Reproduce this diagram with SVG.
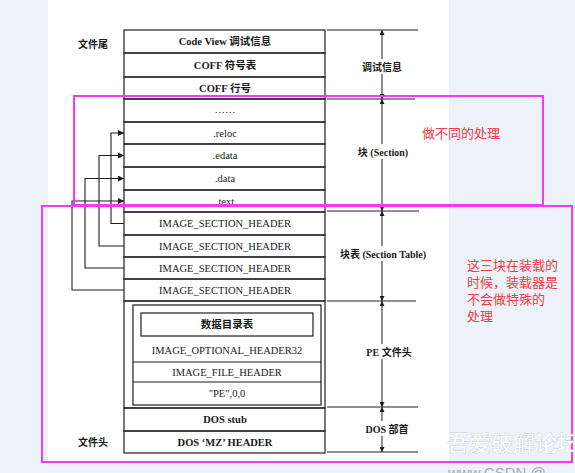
<svg xmlns="http://www.w3.org/2000/svg" width="575" height="473" viewBox="0 0 575 473">
<defs>
<marker id="ah" viewBox="0 0 10 10" refX="10" refY="5" markerWidth="8" markerHeight="6" markerUnits="userSpaceOnUse" orient="auto">
<path d="M0,0 L10,5 L0,10 Z" fill="#1a1a1a"/>
</marker>
<marker id="av" viewBox="0 0 10 10" refX="10" refY="5" markerWidth="7" markerHeight="5" markerUnits="userSpaceOnUse" orient="auto">
<path d="M0,0 L10,5 L0,10 Z" fill="#1a1a1a"/>
</marker>
</defs>
<style>
.cell{fill:none;stroke:#1e1e1e;stroke-width:1.2}
.t{font-family:"Liberation Serif","Noto Sans CJK SC",serif;font-size:10.5px;fill:#1a1a1a;text-anchor:middle}
.b{font-weight:bold}
.lab{font-family:"Liberation Serif","Noto Sans CJK SC",serif;font-size:10px;font-weight:bold;fill:#1a1a1a;text-anchor:middle}
.ln{stroke:#1e1e1e;stroke-width:1.1;fill:none}
.dim{stroke:#1e1e1e;stroke-width:1;fill:none}
.mg{fill:none;stroke:#f53af5;stroke-width:2}
.red{font-family:"Noto Sans CJK SC","Noto Sans",sans-serif;font-size:13px;fill:#f43a45}
</style>
<rect x="0" y="0" width="575" height="473" fill="#edf1f8"/>
<rect x="48" y="0" width="401" height="462" fill="#ffffff"/>

<g id="label-tail"><text class="lab" x="93" y="48">文件尾</text></g>
<g id="label-head"><text class="lab" x="93" y="446">文件头</text></g>

<g id="codeview"><rect class="cell" x="124" y="30" width="201" height="23"/><text class="t b" x="225" y="45">Code View 调试信息</text></g>
<g id="coff-sym"><rect class="cell" x="124" y="53" width="201" height="24"/><text class="t b" x="225" y="69">COFF 符号表</text></g>
<g id="coff-line"><rect class="cell" x="124" y="77" width="201" height="22"/><text class="t b" x="225" y="92">COFF 行号</text></g>
<g id="more"><rect class="cell" x="124" y="99" width="201" height="23"/><text class="t" x="225" y="113">……</text></g>
<g id="reloc"><rect class="cell" x="124" y="122" width="201" height="22"/><text class="t" x="225" y="137">.reloc</text></g>
<g id="edata"><rect class="cell" x="124" y="144" width="201" height="23"/><text class="t" x="225" y="159">.edata</text></g>
<g id="data"><rect class="cell" x="124" y="167" width="201" height="23"/><text class="t" x="225" y="182">.data</text></g>
<g id="text"><rect class="cell" x="124" y="190" width="201" height="22"/><text class="t" x="225" y="205">.text</text></g>
<g id="ish1"><rect class="cell" x="124" y="212" width="201" height="23"/><text class="t" x="225" y="227">IMAGE_SECTION_HEADER</text></g>
<g id="ish2"><rect class="cell" x="124" y="235" width="201" height="22"/><text class="t" x="225" y="250">IMAGE_SECTION_HEADER</text></g>
<g id="ish3"><rect class="cell" x="124" y="257" width="201" height="22"/><text class="t" x="225" y="272">IMAGE_SECTION_HEADER</text></g>
<g id="ish4"><rect class="cell" x="124" y="279" width="201" height="22"/><text class="t" x="225" y="294">IMAGE_SECTION_HEADER</text></g>
<g id="pe-header">
<rect class="cell" x="124" y="301" width="201" height="107"/>
<rect class="cell" x="133" y="305" width="188" height="100" stroke-width="1.6"/>
<line class="ln" x1="133" y1="362" x2="321" y2="362"/>
<line class="ln" x1="133" y1="382" x2="321" y2="382"/>
<text class="t" x="227" y="376">IMAGE_FILE_HEADER</text>
<text class="t" x="227" y="397">"PE",0,0</text>
</g>
<g id="optional-header"><text class="t" x="227" y="354">IMAGE_OPTIONAL_HEADER32</text></g>
<g id="data-directory"><rect class="cell" x="141" y="313" width="172" height="23" stroke-width="1.5"/><text class="t b" x="227" y="328">数据目录表</text></g>
<g id="dos-stub"><rect class="cell" x="124" y="408" width="201" height="23"/><text class="t b" x="225" y="423">DOS stub</text></g>
<g id="dos-mz"><rect class="cell" x="124" y="431" width="201" height="22"/><text class="t b" x="225" y="446">DOS ‘MZ’ HEADER</text></g>

<g id="connectors">
<path class="ln" d="M124,223.5 H111 V133 H124" marker-end="url(#ah)"/>
<path class="ln" d="M124,246 H99 V155.5 H124" marker-end="url(#ah)"/>
<path class="ln" d="M124,268 H85 V178.5 H124" marker-end="url(#ah)"/>
<path class="ln" d="M124,290 H72 V201 H124" marker-end="url(#ah)"/>
<line class="dim" x1="327" y1="30" x2="418" y2="30"/>
<line class="dim" x1="327" y1="99" x2="415" y2="99"/>
<line class="dim" x1="327" y1="211" x2="419" y2="211"/>
<line class="dim" x1="327" y1="301" x2="416" y2="301"/>
<line class="dim" x1="327" y1="407" x2="418" y2="407"/>
<line class="dim" x1="327" y1="452" x2="418" y2="452"/>
<line class="dim" x1="382" y1="59" x2="382" y2="30" marker-end="url(#av)"/>
<line class="dim" x1="382" y1="74" x2="382" y2="99" marker-end="url(#av)"/>
<line class="dim" x1="382" y1="144" x2="382" y2="99" marker-end="url(#av)"/>
<line class="dim" x1="382" y1="159" x2="382" y2="211" marker-end="url(#av)"/>
<line class="dim" x1="382" y1="246" x2="382" y2="211" marker-end="url(#av)"/>
<line class="dim" x1="382" y1="261" x2="382" y2="301" marker-end="url(#av)"/>
<line class="dim" x1="382" y1="344" x2="382" y2="301" marker-end="url(#av)"/>
<line class="dim" x1="382" y1="359" x2="382" y2="407" marker-end="url(#av)"/>
<line class="dim" x1="382" y1="421" x2="382" y2="407" marker-end="url(#av)"/>
<line class="dim" x1="382" y1="436" x2="382" y2="452" marker-end="url(#av)"/>
</g>

<g id="label-debug"><text class="lab" x="382" y="71">调试信息</text></g>
<g id="label-section"><text class="lab" x="383" y="156">块 (Section)</text></g>
<g id="label-section-table"><text class="lab" x="383" y="258">块表 (Section Table)</text></g>
<g id="label-pe"><text class="lab" x="389" y="356">PE 文件头</text></g>
<g id="label-dos"><text class="lab" x="387" y="433">DOS 部首</text></g>

<g id="box-sections"><rect class="mg" x="74" y="96" width="469" height="109"/><text class="red" x="422" y="138">做不同的处理</text></g>
<g id="box-headers"><rect class="mg" x="42" y="206" width="530" height="256"/>
<text class="red" x="467" y="270">这三块在装载的</text>
<text class="red" x="467" y="287">时候，装载器是</text>
<text class="red" x="467" y="304">不会做特殊的</text>
<text class="red" x="467" y="321">处理</text>
</g>
<text x="447" y="451" font-family="Noto Sans CJK SC,sans-serif" font-size="22" fill="#ffffff" stroke="#c9ccd3" stroke-width="0.8" paint-order="stroke">吾爱破解论坛</text>
<text x="448" y="478" font-family="Liberation Sans,sans-serif" font-size="15" fill="#a9adb5">www.CSDN @</text>
</svg>
